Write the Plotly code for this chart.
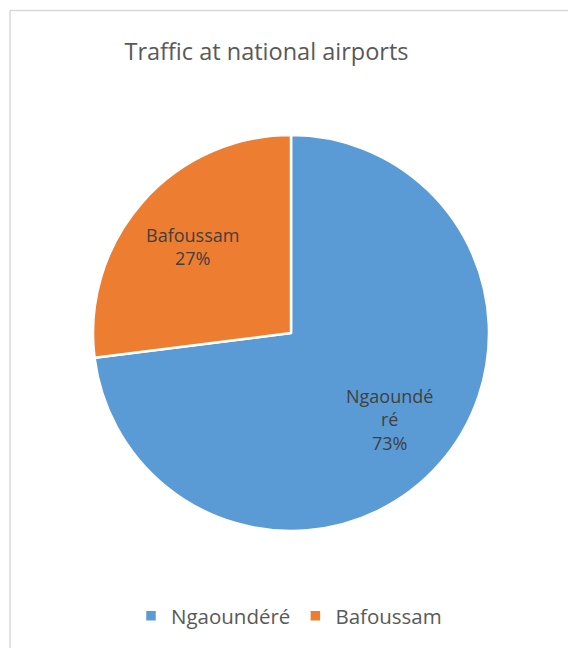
import math
import plotly.graph_objects as go

# Airport traffic shares
airports = ["Ngaoundéré", "Bafoussam"]
traffic_share = [73, 27]
slice_labels = ["Ngaoundé<br>ré", "Bafoussam"]

W, H = 568, 648

# Pie geometry in pixels (center and radius)
CX, CY, R = 291, 333, 198

fig = go.Figure(
    go.Pie(
        labels=airports,
        values=traffic_share,
        sort=False,
        direction="clockwise",
        rotation=0,
        marker=dict(colors=["#5b9bd5", "#ed7d31"], line=dict(color="white", width=2.5)),
        textinfo="none",
        domain=dict(x=[(CX - R) / W, (CX + R) / W], y=[1 - (CY + R) / H, 1 - (CY - R) / H]),
        hoverinfo="label+percent",
    )
)

# Data labels placed along each slice's bisector
total = sum(traffic_share)
annotations = []
start = 0.0
for name, val in zip(slice_labels, traffic_share):
    frac = val / total
    mid = (start + frac / 2) * 2 * math.pi
    start += frac
    px = CX + 0.66 * R * math.sin(mid)
    py = CY - 0.66 * R * math.cos(mid)
    annotations.append(
        dict(
            text=f"{name}<br>{round(frac * 100)}%",
            x=px / W,
            y=1 - py / H,
            xref="paper",
            yref="paper",
            showarrow=False,
            xanchor="center",
            yanchor="middle",
            align="center",
            font=dict(family="Open Sans", size=18, color="#404040"),
        )
    )

fig.update_layout(
    width=W,
    height=H,
    margin=dict(l=0, r=0, t=0, b=0),
    paper_bgcolor="white",
    plot_bgcolor="white",
    title=dict(
        text="Traffic at national airports",
        x=266.5 / W,
        xanchor="center",
        y=1 - 52 / H,
        yanchor="middle",
        font=dict(family="Open Sans", size=23.5, color="#595959"),
    ),
    legend=dict(
        orientation="h",
        x=289 / W,
        xanchor="center",
        y=1 - 616 / H,
        yanchor="middle",
        font=dict(family="Open Sans", size=20.5, color="#595959"),
        traceorder="normal",
        itemwidth=30,
    ),
    annotations=annotations,
    shapes=[
        dict(type="line", xref="paper", yref="paper",
             x0=10 / W, x1=1.0, y0=1 - 10.5 / H, y1=1 - 10.5 / H,
             line=dict(color="#d9d9d9", width=1.5)),
        dict(type="line", xref="paper", yref="paper",
             x0=10 / W, x1=10 / W, y0=0, y1=1 - 10.5 / H,
             line=dict(color="#d9d9d9", width=1.5)),
    ],
)

fig.write_html("out.html", config={"displayModeBar": False})
